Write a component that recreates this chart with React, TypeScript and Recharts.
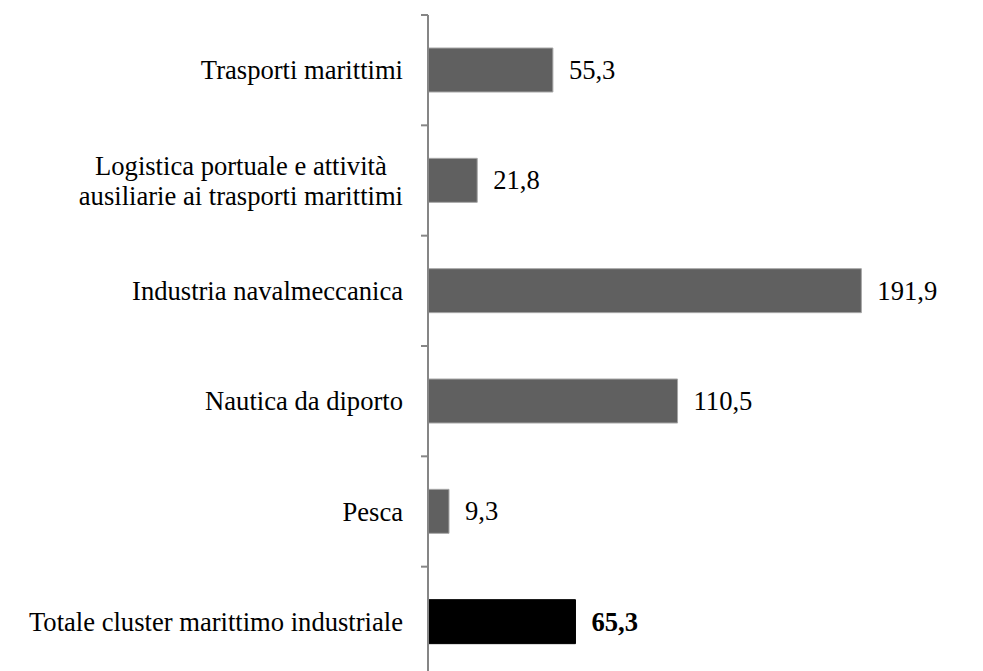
import React from "react";
import { BarChart, Bar, XAxis, YAxis, Cell, LabelList } from "recharts";

const categories = [
  "Trasporti marittimi",
  "Logistica portuale e attività\nausiliarie ai trasporti marittimi",
  "Industria navalmeccanica",
  "Nautica da diporto",
  "Pesca",
  "Totale cluster marittimo industriale",
];
const values = [55.3, 21.8, 191.9, 110.5, 9.3, 65.3];
const isTotal = [false, false, false, false, false, true];

const FONT = "'Liberation Serif', 'Times New Roman', serif";
const FONT_SIZE = 26.6;
const textStyle = { fontFamily: FONT, fontSize: FONT_SIZE };
const AXIS_COLOR = "#868686";

const CHART_W = 983;
const CHART_H = 680;
const MARGIN = { top: 15, right: 13, bottom: 3, left: 1 };
const TICK_MARGIN = 25;
const MARK_LEN = 7;
const BAND = (CHART_H - MARGIN.top - MARGIN.bottom) / categories.length;

const data = categories.map((name, i) => ({ name, value: values[i], total: isTotal[i] }));

let ctx: CanvasRenderingContext2D | null = null;
function measure(text: string) {
  if (!ctx) ctx = document.createElement("canvas").getContext("2d");
  if (!ctx) return text.length * 11;
  ctx.font = `${FONT_SIZE}px ${FONT}`;
  return ctx.measureText(text).width;
}

// label plus Excel-style tick marks on the band edges
function CategoryTick(props: any) {
  const { x, y, payload, index } = props;
  const axisX = x + TICK_MARGIN;
  const lines = String(payload.value).split("\n");
  const lh = 30;
  const edges = [y - BAND / 2];
  if (index === categories.length - 1) edges.push(y + BAND / 2);
  const marks = edges.map((ey, i) => (
    <line key={i} x1={axisX - MARK_LEN} x2={axisX} y1={ey} y2={ey} stroke={AXIS_COLOR} strokeWidth={2} />
  ));
  if (lines.length === 1) {
    return (
      <g>
        {marks}
        <text x={x} y={y} textAnchor="end" dominantBaseline="central" style={textStyle} fill="#000">
          {lines[0]}
        </text>
      </g>
    );
  }
  const maxW = Math.max(...lines.map(measure));
  const cx = x - maxW / 2;
  const y0 = y - ((lines.length - 1) * lh) / 2;
  return (
    <g>
      {marks}
      <text textAnchor="middle" style={textStyle} fill="#000">
        {lines.map((l, i) => (
          <tspan key={i} x={cx} y={y0 + i * lh} dominantBaseline="central">
            {l}
          </tspan>
        ))}
      </text>
    </g>
  );
}

function ValueLabel(props: any) {
  const { x, y, width, height, value, index } = props;
  return (
    <text
      x={x + width + 16}
      y={y + height / 2}
      dominantBaseline="central"
      style={{ ...textStyle, fontWeight: isTotal[index] ? "bold" : "normal" }}
      fill="#000"
    >
      {Number(value).toFixed(1).replace(".", ",")}
    </text>
  );
}

export default function App() {
  return (
    <div style={{ position: "absolute", left: 0, top: 0, width: 983, height: 671, overflow: "hidden", background: "#fff" }}>
      <BarChart width={CHART_W} height={CHART_H} data={data} layout="vertical" margin={MARGIN} barSize={44}>
        <XAxis type="number" domain={[0, 240]} hide />
        <YAxis
          type="category"
          dataKey="name"
          width={427}
          axisLine={{ stroke: AXIS_COLOR, strokeWidth: 2 }}
          tickLine={false}
          tickSize={0}
          tickMargin={TICK_MARGIN}
          interval={0}
          tick={<CategoryTick />}
        />
        <Bar dataKey="value" isAnimationActive={false}>
          {data.map((d, i) => (
            <Cell key={i} fill={d.total ? "#000000" : "#606060"} stroke={d.total ? "#000000" : "#a6a6a6"} strokeWidth={1} />
          ))}
          <LabelList dataKey="value" content={<ValueLabel />} />
        </Bar>
      </BarChart>
    </div>
  );
}
